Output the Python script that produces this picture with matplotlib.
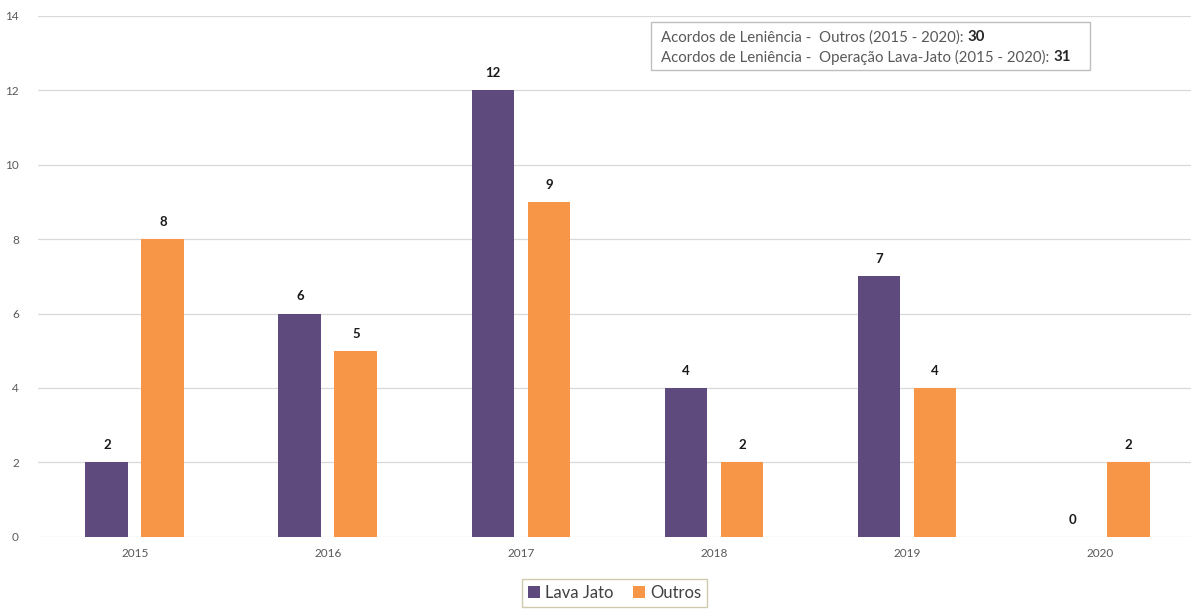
import matplotlib
matplotlib.use("Agg")
import matplotlib.pyplot as plt
import numpy as np

plt.rcParams['font.family'] = ['Lato', 'DejaVu Sans']

# data
years = ["2015", "2016", "2017", "2018", "2019", "2020"]
lava_jato = [2, 6, 12, 4, 7, 0]
outros = [8, 5, 9, 2, 4, 2]
box_lines = ["Acordos de Leniência -  Outros (2015 - 2020): ", "Acordos de Leniência -  Operação Lava-Jato (2015 - 2020): "]
box_totals = ["30", "31"]

purple = "#5f4a7e"
orange = "#f79646"

fig = plt.figure(figsize=(11.98, 6.10), dpi=100)
ax = fig.add_axes([0.032, 0.12, 0.962, 0.854])

x = np.arange(len(years))
w = 0.222
off = 0.145
b1 = ax.bar(x - off, lava_jato, w, color=purple, label="Lava Jato", zorder=3)
b2 = ax.bar(x + off, outros, w, color=orange, label="Outros", zorder=3)

for bars, vals in ((b1, lava_jato), (b2, outros)):
    for r, v in zip(bars, vals):
        ax.text(r.get_x() + r.get_width() / 2, v + 0.3, str(v), ha="center", va="bottom",
                fontsize=9.5, fontweight="bold", color="#1a1a1a")

ax.set_xlim(-0.5, 5.47)
ax.set_ylim(0, 14)
ax.set_yticks(range(0, 15, 2))
ax.set_xticks(x)
ax.set_xticklabels(years)
ax.tick_params(axis="both", length=0, labelsize=8.5, colors="#595959")
ax.tick_params(axis="x", pad=8)
ax.tick_params(axis="y", pad=14)
ax.grid(axis="y", color="#d9d9d9", linewidth=0.9, zorder=0)
for s in ax.spines.values():
    s.set_visible(False)

# totals box
fig.patches.append(matplotlib.patches.Rectangle((0.543, 0.886), 0.367, 0.078, transform=fig.transFigure,
                                                facecolor="white", edgecolor="#bfbfbf", linewidth=1, zorder=5))
ty = [0.939, 0.906]
for line, tot, yy in zip(box_lines, box_totals, ty):
    t = fig.text(0.552, yy, line, fontsize=10.8, color="#595959", va="center", zorder=6)
    fig.canvas.draw()
    bb = t.get_window_extent()
    fig.text(bb.x1 / fig.bbox.width, yy, tot, fontsize=10.8, color="#262626", fontweight="bold", va="center", zorder=6)

leg = ax.legend(loc="upper center", bbox_to_anchor=(0.5, -0.065), ncol=2, frameon=True, fancybox=False,
                handlelength=0.7, handleheight=0.7, handletextpad=0.3, columnspacing=1.2,
                prop={"size": 12}, borderpad=0.35)
leg.get_frame().set_edgecolor("#c4bd97")
leg.get_frame().set_linewidth(1)
for t in leg.get_texts():
    t.set_color("#404040")

fig.savefig("out.png", dpi=100)
